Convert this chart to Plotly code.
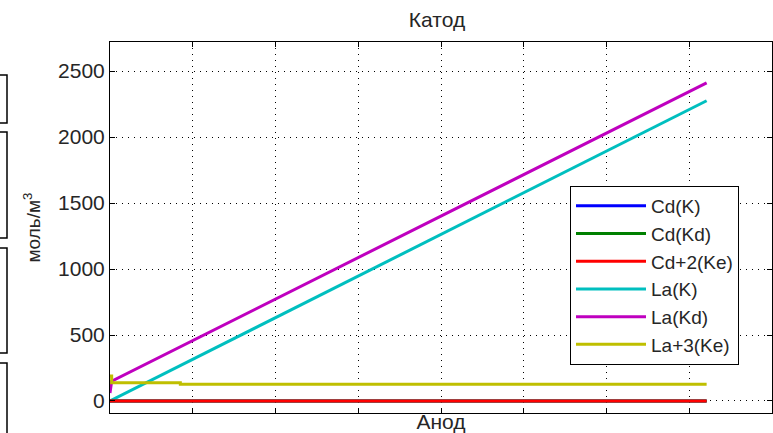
import plotly.graph_objects as go

# Concentration profiles between anode and cathode
series_names = ["Cd(K)", "Cd(Kd)", "Cd+2(Ke)", "La(K)", "La(Kd)", "La+3(Ke)"]
series_colors = ["#0000ff", "#008000", "#ff0000", "#00bfbf", "#bf00bf", "#bfbf00"]

position_cd = [0.0, 7.21]
cd_k = [0, 0]
cd_kd = [0, 0]
cd_ke = [0, 0]

position_la_k = [0.0, 7.21]
la_k = [0, 2275]

position_la_kd = [0.0, 0.02, 7.21]
la_kd = [60, 150, 2410]

position_la_ke = [0.0, 0.02, 0.02, 0.85, 0.85, 7.21]
la_ke = [190, 190, 138, 138, 127, 127]

y_ticks = [0, 500, 1000, 1500, 2000, 2500]

xs = [position_cd, position_cd, position_cd, position_la_k, position_la_kd, position_la_ke]
ys = [cd_k, cd_kd, cd_ke, la_k, la_kd, la_ke]

W, H = 773, 433
L, R, T, B = 110, 1, 42, 20
TEXT = "#262626"

fig = go.Figure()
# La curves go underneath so the Cd lines at zero stay visible
order = [3, 4, 5, 0, 1, 2]
for i in order:
    fig.add_trace(go.Scatter(
        x=xs[i], y=ys[i], mode="lines", name=series_names[i],
        line=dict(color=series_colors[i], width=3),
        legendrank=i + 1,
    ))

axis_common = dict(
    showline=True, linecolor="black", linewidth=1, mirror="ticks",
    ticks="inside", ticklen=5, tickcolor="black",
    showgrid=True, gridcolor="black", gridwidth=1, griddash="1px,5px",
    zeroline=False,
)

fig.update_xaxes(range=[0, 8], dtick=1, showticklabels=False,
                 title=dict(text="Анод", standoff=2,
                            font=dict(size=21, color=TEXT)),
                 **axis_common)
fig.update_yaxes(range=[-91, 2720], tickvals=y_ticks,
                 tickfont=dict(size=21, color=TEXT),
                 title=dict(text="моль/м<sup>3</sup>", standoff=12,
                            font=dict(size=19, color=TEXT)),
                 **axis_common)

# partial frames of neighbouring panels at the left edge
def px_x(p):
    return (p - L) / (W - L - R)

def px_y(p):
    return (H - B - p) / (H - T - B)

for top, bottom in [(75, 123), (132, 238), (248, 353), (363, 450)]:
    fig.add_shape(type="rect", xref="paper", yref="paper",
                  x0=px_x(-10), x1=px_x(7), y0=px_y(bottom), y1=px_y(top),
                  line=dict(color="black", width=1.5), fillcolor="rgba(0,0,0,0)")

fig.update_layout(
    width=W, height=H,
    margin=dict(l=L, r=R, t=T, b=B),
    paper_bgcolor="white", plot_bgcolor="white",
    font=dict(family="Liberation Sans, Arial, sans-serif", color=TEXT),
    title=dict(text="Катод", xref="container", x=437 / W, xanchor="center",
               y=1 - 20 / H, yanchor="middle", font=dict(size=21, color=TEXT)),
    legend=dict(x=px_x(570), y=px_y(186), xanchor="left", yanchor="top",
                bgcolor="white", bordercolor="black", borderwidth=1,
                font=dict(size=19, color=TEXT), itemwidth=70,
                tracegroupgap=0),
    showlegend=True,
)

fig.write_html("out.html")
